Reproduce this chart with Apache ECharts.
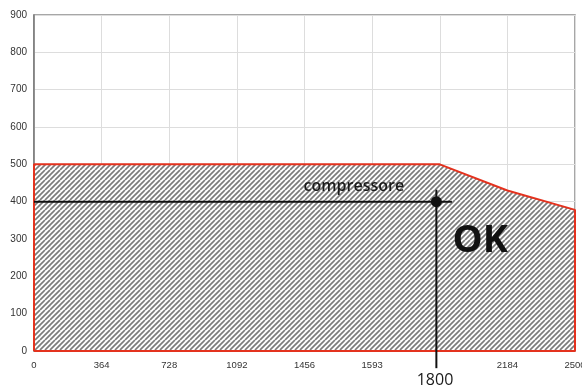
<!DOCTYPE html>
<html><head><meta charset="utf-8">
<script src="https://cdn.jsdelivr.net/npm/echarts@6/dist/echarts.min.js"></script>
<style>html,body{margin:0;padding:0;background:#fff}#c{width:582px;height:387px}</style>
</head><body><div id="c"></div>
<script>
// tick labels (evenly spaced positions 0..8)
const xTickLabels = ['0','364','728','1092','1456','1593','','2184','2500'];
const yTicks = [0,100,200,300,400,500,600,700,800,900];
// operating envelope (x as tick position, y value)
const envX = [0, 0, 6, 7, 8, 8, 0];
const envY = [0, 500, 500, 430, 378, 0, 0];
// operating point
const opX = 5.95, opY = 400, opLabel = '1800';
const hLineX = [0, 6.18];
const vLineY = [432, -46];
const annoCompressore = {text:'compressore', x:4.73, y:442};
const annoOK = {text:'OK', x:6.6, y:295};
const annoOp = {x:5.93, y:-78};

function hatch(){
  const c = document.createElement('canvas');
  c.width = 10; c.height = 10;
  const g = c.getContext('2d');
  g.fillStyle = '#ffffff'; g.fillRect(0,0,10,10);
  g.strokeStyle = '#7c7c7c'; g.lineWidth = 1.7;
  for (let k = -10; k <= 20; k += 5) {
    g.beginPath(); g.moveTo(k, 10); g.lineTo(k + 10, 0); g.stroke();
  }
  return c;
}

const chart = echarts.init(document.getElementById('c'));
chart.setOption({
  animation:false,
  grid:{left:34,right:7,top:15,bottom:36,show:true,borderColor:'#8a8a8a',borderWidth:1.5,outerBoundsMode:'none',containLabel:false},
  xAxis:{type:'value',min:0,max:8,interval:1,
    axisLine:{show:false},axisTick:{show:false},
    splitLine:{show:true,lineStyle:{color:'#dddddd',width:1}},
    axisLabel:{formatter:v=>xTickLabels[Math.round(v)]||'',color:'#333',fontSize:9.5,fontFamily:'Liberation Sans, Arial',margin:9,hideOverlap:false}},
  yAxis:{type:'value',min:yTicks[0],max:yTicks[yTicks.length-1],interval:100,
    axisLine:{show:true,lineStyle:{color:'#777',width:1.5}},axisTick:{show:false},
    splitLine:{show:true,lineStyle:{color:'#dddddd',width:1}},
    axisLabel:{color:'#333',fontSize:10,fontFamily:'Liberation Sans, Arial',margin:7}},
  series:[
    {type:'line',data:envX.map((x,i)=>[x,envY[i]]),symbol:'none',z:2,
      lineStyle:{color:'#e4321e',width:2},
      areaStyle:{color:{image:hatch(),repeat:'repeat'},opacity:1}},
    {type:'line',data:hLineX.map(x=>[x,opY]),symbol:'none',z:4,
      lineStyle:{color:'#111',width:2}},
    {type:'line',data:vLineY.map(y=>[opX,y]),symbol:'none',z:4,clip:false,
      lineStyle:{color:'#111',width:2}},
    {type:'scatter',data:[[opX,opY]],symbolSize:11,z:5,itemStyle:{color:'#111',opacity:1}},
    {type:'scatter',clip:false,symbolSize:0,z:6,silent:true,itemStyle:{opacity:1},
      data:[
        {value:[annoCompressore.x,annoCompressore.y],label:{show:true,position:'inside',formatter:annoCompressore.text,color:'#1a1a1a',fontSize:16,fontWeight:600,fontFamily:'Open Sans'}},
        {value:[annoOK.x,annoOK.y],label:{show:true,position:'inside',formatter:annoOK.text,color:'#111',fontSize:38,fontWeight:'bold',fontFamily:'Open Sans'}},
        {value:[annoOp.x,annoOp.y],label:{show:true,position:'inside',formatter:opLabel,color:'#1a1a1a',fontSize:16,fontFamily:'Open Sans'}}
      ]}
  ]
});
</script></body></html>
